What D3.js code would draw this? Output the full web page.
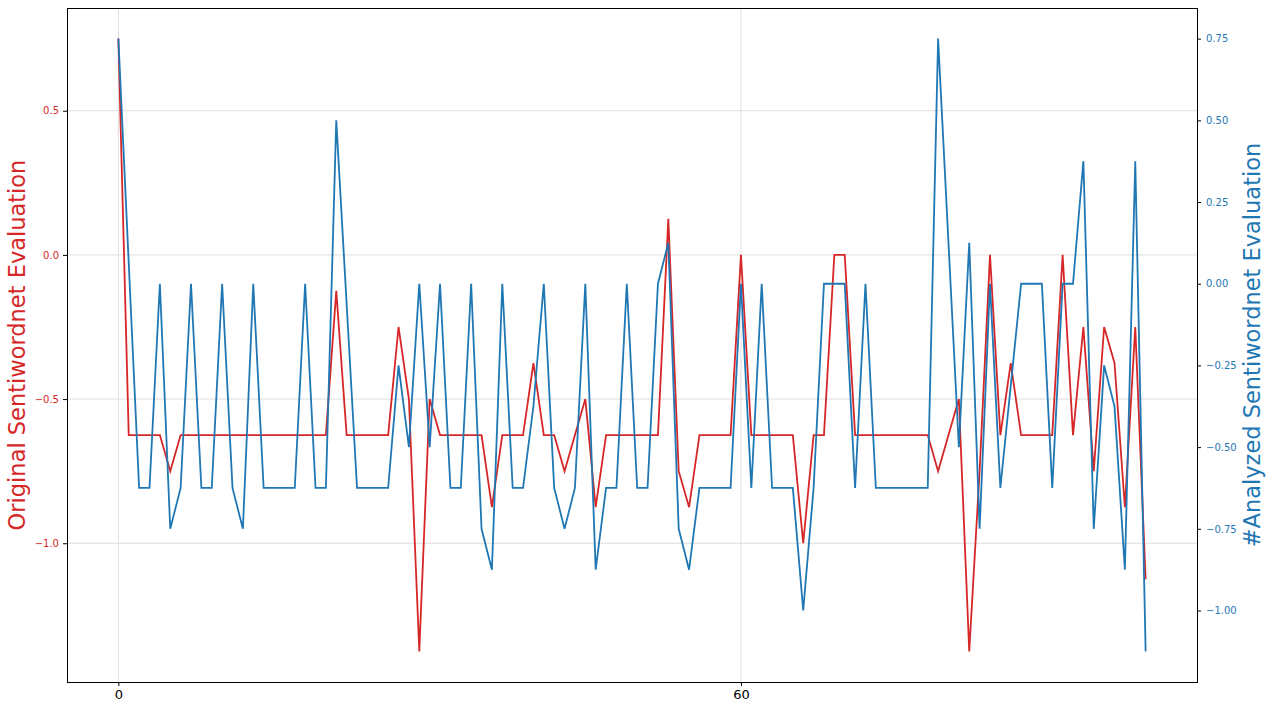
<!DOCTYPE html>
<html>
<head>
    <meta charset="utf-8">
    <style>
        body {
            margin: 0;
            background: #fff;
            font-family: 'DejaVu Sans', sans-serif;
        }
        .grid line {
            stroke: #dedede;
            stroke-width: 1px;
        }
        .series {
            fill: none;
            stroke-width: 1.8px;
            stroke-linejoin: miter;
        }
    </style>
    <script src="https://d3js.org/d3.v7.min.js"></script>
</head>
<body>
    <script>
        // index along the x axis (0..99)
        const xTicks = [0, 60];
        const leftTicks = [0.5, 0.0, -0.5, -1.0];
        const rightTicks = [0.75, 0.5, 0.25, 0.0, -0.25, -0.5, -0.75, -1.0];

        // red series, left axis
        const original = [
            0.75, -0.625, -0.625, -0.625, -0.625, -0.75, -0.625, -0.625, -0.625, -0.625,
            -0.625, -0.625, -0.625, -0.625, -0.625, -0.625, -0.625, -0.625, -0.625, -0.625,
            -0.625, -0.125, -0.625, -0.625, -0.625, -0.625, -0.625, -0.25, -0.5, -1.375,
            -0.5, -0.625, -0.625, -0.625, -0.625, -0.625, -0.875, -0.625, -0.625, -0.625,
            -0.375, -0.625, -0.625, -0.75, -0.625, -0.5, -0.875, -0.625, -0.625, -0.625,
            -0.625, -0.625, -0.625, 0.125, -0.75, -0.875, -0.625, -0.625, -0.625, -0.625,
            0.0, -0.625, -0.625, -0.625, -0.625, -0.625, -1.0, -0.625, -0.625, 0.0,
            0.0, -0.625, -0.625, -0.625, -0.625, -0.625, -0.625, -0.625, -0.625, -0.75,
            -0.625, -0.5, -1.375, -0.75, 0.0, -0.625, -0.375, -0.625, -0.625, -0.625,
            -0.625, 0.0, -0.625, -0.25, -0.75, -0.25, -0.375, -0.875, -0.25, -1.125
        ];

        // blue series, right axis
        const analyzed = [
            0.75, 0.0625, -0.625, -0.625, 0.0, -0.75, -0.625, 0.0, -0.625, -0.625,
            0.0, -0.625, -0.75, 0.0, -0.625, -0.625, -0.625, -0.625, 0.0, -0.625,
            -0.625, 0.5, -0.0625, -0.625, -0.625, -0.625, -0.625, -0.25, -0.5, 0.0,
            -0.5, 0.0, -0.625, -0.625, 0.0, -0.75, -0.875, 0.0, -0.625, -0.625,
            -0.375, 0.0, -0.625, -0.75, -0.625, 0.0, -0.875, -0.625, -0.625, 0.0,
            -0.625, -0.625, 0.0, 0.125, -0.75, -0.875, -0.625, -0.625, -0.625, -0.625,
            0.0, -0.625, 0.0, -0.625, -0.625, -0.625, -1.0, -0.625, 0.0, 0.0,
            0.0, -0.625, 0.0, -0.625, -0.625, -0.625, -0.625, -0.625, -0.625, 0.75,
            0.125, -0.5, 0.125, -0.75, 0.0, -0.625, -0.3125, 0.0, 0.0, 0.0,
            -0.625, 0.0, 0.0, 0.375, -0.75, -0.25, -0.375, -0.875, 0.375, -1.125
        ];

        const red = '#d62728', blue = '#1f77b4';
        const width = 1272, height = 711;
        const margin = {top: 8, right: 75, bottom: 29, left: 67};
        const w = width - margin.left - margin.right,
            h = height - margin.top - margin.bottom;

        // matplotlib style 5% padding on each axis
        const pad = (lo, hi) => [lo - (hi - lo) * 0.05, hi + (hi - lo) * 0.05];
        const x = d3.scaleLinear()
            .domain(pad(0, original.length - 1))
            .range([0, w]);
        const yLeft = d3.scaleLinear()
            .domain(pad(d3.min(original), d3.max(original)))
            .range([h, 0]);
        const yRight = d3.scaleLinear()
            .domain(pad(d3.min(analyzed), d3.max(analyzed)))
            .range([h, 0]);

        const svg = d3.select('body').append('svg')
            .attr('width', width)
            .attr('height', height);
        const g = svg.append('g')
            .attr('transform', `translate(${margin.left},${margin.top})`);

        // grid: horizontal from left ticks, vertical from x ticks
        const grid = g.append('g').attr('class', 'grid');
        grid.selectAll('line.h').data(leftTicks).enter().append('line')
            .attr('class', 'h')
            .attr('x1', 0).attr('x2', w)
            .attr('y1', d => yLeft(d)).attr('y2', d => yLeft(d));
        grid.selectAll('line.v').data(xTicks).enter().append('line')
            .attr('class', 'v')
            .attr('y1', 0).attr('y2', h)
            .attr('x1', d => x(d)).attr('x2', d => x(d));

        const xAxis = g.append('g')
            .attr('transform', `translate(0,${h})`)
            .call(d3.axisBottom(x).tickValues(xTicks).tickSize(4).tickPadding(4).tickFormat(d3.format('d')));
        xAxis.selectAll('text').style('font-size', '13px').style('fill', '#000');

        // d3.format already writes a true minus sign
        const leftAxis = g.append('g')
            .call(d3.axisLeft(yLeft).tickValues(leftTicks).tickSize(4).tickPadding(4)
                .tickFormat(d3.format('.1f')));
        leftAxis.selectAll('text').style('font-size', '10px').style('fill', red);

        const rightAxis = g.append('g')
            .attr('transform', `translate(${w},0)`)
            .call(d3.axisRight(yRight).tickValues(rightTicks).tickSize(4).tickPadding(5)
                .tickFormat(d3.format('.2f')));
        rightAxis.selectAll('text').style('font-size', '10px').style('fill', blue);

        [xAxis, leftAxis, rightAxis].forEach(a => {
            a.select('.domain').remove();
            a.selectAll('line').attr('stroke', '#000');
            a.style('font-family', "'DejaVu Sans', sans-serif");
        });

        const line = (ys) => d3.line()
            .x((d, i) => x(i))
            .y(d => ys(d));

        g.append('path')
            .datum(original)
            .attr('class', 'series')
            .attr('stroke', red)
            .attr('d', line(yLeft));

        g.append('path')
            .datum(analyzed)
            .attr('class', 'series')
            .attr('stroke', blue)
            .attr('d', line(yRight));

        // frame
        g.append('rect')
            .attr('width', w).attr('height', h)
            .attr('fill', 'none')
            .attr('stroke', '#000')
            .attr('stroke-width', 1)
            .attr('shape-rendering', 'crispEdges');

        // axis titles
        svg.append('text')
            .attr('transform', `translate(25,${margin.top + h / 2}) rotate(-90)`)
            .attr('text-anchor', 'middle')
            .style('font-size', '22.5px')
            .style('fill', red)
            .text('Original Sentiwordnet Evaluation');

        svg.append('text')
            .attr('transform', `translate(1260,${margin.top + h / 2}) rotate(-90)`)
            .attr('text-anchor', 'middle')
            .style('font-size', '22.5px')
            .style('fill', blue)
            .text('#Analyzed Sentiwordnet Evaluation');
    </script>
</body>
</html>
